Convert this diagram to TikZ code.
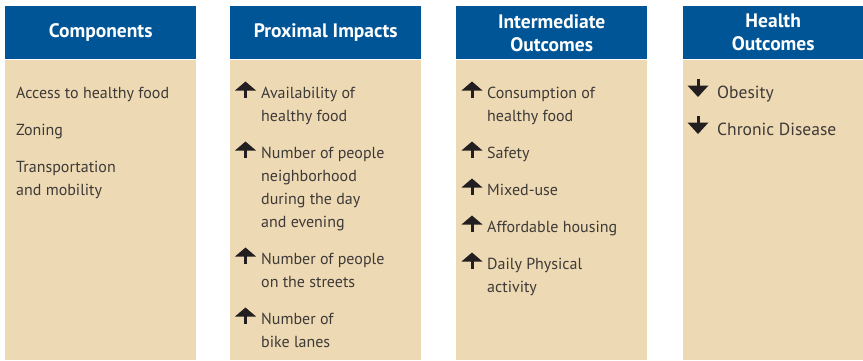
\documentclass[tikz,border=0pt]{standalone}
\usepackage{fontspec}
\setmainfont{PT Sans}
\definecolor{hblue}{RGB}{0,85,150}
\definecolor{beige}{RGB}{237,217,179}
\definecolor{tgray}{RGB}{62,58,56}
\definecolor{arr}{RGB}{35,31,32}
\tikzset{
  hdr/.style={fill=hblue, draw=none, text=white, anchor=north west, inner sep=0pt,
    minimum height=53pt, align=center, font=\bfseries\fontsize{19.5}{23}\selectfont},
  bodybox/.style={fill=beige, draw=none},
  item/.style={text=tgray, anchor=base west, inner sep=0pt, align=left,
    font=\fontsize{16}{23}\selectfont},
  bigitem/.style={item, font=\fontsize{17.5}{23}\selectfont},
  uparr/.pic={\fill[arr] (-10.5,-7.5) -- (0,-16.5) -- (10.5,-7.5) -- cycle;
              \fill[arr] (-1.5,-8) rectangle (1.5,0);},
  dnarr/.pic={\fill[arr] (-1.5,-19) rectangle (1.5,-12);
              \fill[arr] (-10.5,-12.5) -- (10.5,-12.5) -- (0,-1) -- cycle;}
}
\begin{document}
\begin{tikzpicture}[x=1pt,y=-1pt]
\useasboundingbox (0,0) rectangle (863,360);
\fill[white] (0,0) rectangle (863,360);
% bodies
\fill[bodybox] (5,60) rectangle (196,360);
\fill[bodybox] (230,60) rectangle (421,360);
\fill[bodybox] (456,60) rectangle (647,360);
\fill[bodybox] (683,60) rectangle (863,360);
% headers
\node[hdr, minimum width=191pt] (h1) at (5,6) {Components};
\node[hdr, minimum width=191pt] (h2) at (230,6) {Proximal Impacts};
\node[hdr, minimum width=191pt] (h3) at (456,6) {Intermediate\\Outcomes};
\node[hdr, minimum width=180pt] (h4) at (683,6) {Health\\Outcomes};
% column 1 (anchor = baseline of last line)
\node[item] (a1) at (16,98) {Access to healthy food};
\node[item] (a2) at (16,135) {Zoning};
\node[item] (a3) at (16,195) {Transportation\\and mobility};
% column 2
\pic at (245.5,98) {uparr};
\node[item] (b1) at (261,121) {Availability of\\healthy food};
\pic at (245.5,158) {uparr};
\node[item] (b2) at (261,227) {Number of people\\neighborhood\\during the day\\and evening};
\pic at (245.5,264) {uparr};
\node[item] (b3) at (261,287) {Number of people\\on the streets};
\pic at (245.5,324) {uparr};
\node[item] (b4) at (261,347) {Number of\\bike lanes};
% column 3
\pic at (472,98) {uparr};
\node[item] (c1) at (487,121) {Consumption of\\healthy food};
\pic at (472,158) {uparr};
\node[item] (c2) at (487,158) {Safety};
\pic at (472,195) {uparr};
\node[item] (c3) at (487,195) {Mixed-use};
\pic at (472,232) {uparr};
\node[item] (c4) at (487,232) {Affordable housing};
\pic at (472,269) {uparr};
\node[item] (c5) at (487,292) {Daily Physical\\activity};
% column 4
\pic at (698,98) {dnarr};
\node[bigitem] (d1) at (717,98) {Obesity};
\pic at (698,135) {dnarr};
\node[bigitem] (d2) at (717,135) {Chronic Disease};
\end{tikzpicture}
\end{document}
